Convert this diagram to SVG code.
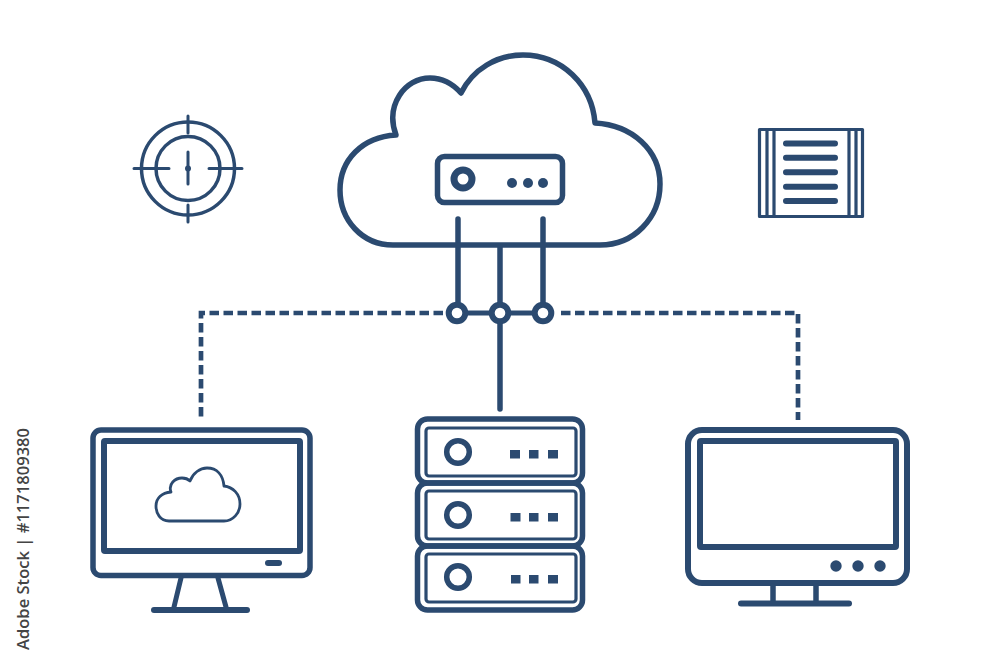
<svg xmlns="http://www.w3.org/2000/svg" width="1000" height="667" viewBox="0 0 1000 667">
<style>
.s{fill:none;stroke:#2b4a70;stroke-linecap:round;stroke-linejoin:round}
.w{fill:#fff;stroke:#2b4a70}
.f{fill:#2b4a70}
.d{fill:none;stroke:#2b4a70;stroke-width:4.700;stroke-dasharray:9.500 4.500}
.wm{font-family:"Open Sans","Liberation Sans",sans-serif;font-size:16.500px;font-weight:600;fill:#444}
</style>
<rect width="1000" height="667" fill="#fff"/>
<g id="connectors">
<path class="d" d="M443 313H201V420"/>
<path class="d" d="M561 313H798V420"/>
<path class="s" stroke-width="5.500" d="M458 219V306M500 247V306M543 219V306M500 322V409"/>
<path class="s" stroke-width="5" d="M464 313H492M508 313H534"/>
</g>
<g id="cloud">
<path class="s" stroke-width="5.500" d="M393 245C362 245 340 220 340 190C340 160 362 137 396 135C385 105 405 78 430 78C442 78 453 84 461 93C473 69 497 55 523 55C562 55 592 85 595 123C632 125 660 150 660 184C660 218 634 245 600 245Z"/>
<rect class="s" stroke-width="5.500" x="437.500" y="156.500" width="125" height="46" rx="7"/>
<circle class="s" stroke-width="7" cx="463" cy="179" r="9"/>
<circle class="f" cx="512" cy="183" r="5"/><circle class="f" cx="528" cy="183" r="5"/><circle class="f" cx="543" cy="183" r="5"/>
</g>
<g id="junctions">
<circle class="w" stroke-width="6" cx="457" cy="313" r="8.300"/>
<circle class="w" stroke-width="6" cx="500" cy="313" r="8.300"/>
<circle class="w" stroke-width="6" cx="543" cy="313" r="8.300"/>
</g>
<g id="target">
<circle class="s" stroke-width="3.500" cx="188" cy="168.500" r="46.500"/>
<circle class="s" stroke-width="3.500" cx="188" cy="168.500" r="32"/>
<path class="s" stroke-width="3" d="M188 116V133M188 205V222M134 168.500H169M209 168.500H242M188 152V184"/>
<circle class="f" cx="188" cy="168.500" r="3"/>
</g>
<g id="document">
<rect class="s" stroke-width="3.200" x="759.500" y="129.500" width="103" height="87"/>
<path class="s" stroke-width="3.200" d="M767 129.500V216.500M774 129.500V216.500M849 129.500V216.500M856 129.500V216.500"/>
<path class="s" stroke-width="6" d="M786 143.500H835M786 157.700H835M786 172.300H835M786 186.700H835M786 201H835"/>
</g>
<g id="monitor-left">
<rect class="s" stroke-width="5.500" x="93" y="430" width="217" height="145.500" rx="8"/>
<rect class="s" stroke-width="6" x="104" y="441" width="196" height="110" rx="1"/>
<path class="s" stroke-width="2.800" d="M169 521C160 521 156 513 156 506C156 498 162 493 171 492C168 484 175 478 182 478C185 478 188 479 190 481C193 473 200 468 207 468C217 468 223 475 224 486C233 487 240 494 240 504C240 513 233 521 224 521Z"/>
<rect class="f" x="265" y="560" width="17" height="6" rx="3"/>
<path class="s" stroke-width="5" d="M181 578L174 607M218 578L226 607"/>
<path class="s" stroke-width="6" d="M154 610H247"/>
</g>
<g id="server">
<rect class="s" stroke-width="5.500" x="417.500" y="419" width="165" height="64" rx="10"/>
<rect class="s" stroke-width="5.500" x="417.500" y="483" width="165" height="63" rx="10"/>
<rect class="s" stroke-width="5.500" x="417.500" y="546" width="165" height="64" rx="10"/>
<rect class="s" stroke-width="3.200" x="426" y="428" width="150" height="48" rx="3"/>
<rect class="s" stroke-width="3.200" x="426" y="491" width="150" height="48" rx="3"/>
<rect class="s" stroke-width="3.200" x="426" y="554" width="150" height="48" rx="3"/>
<circle class="s" stroke-width="5.500" cx="458" cy="452" r="11.300"/>
<circle class="s" stroke-width="5.500" cx="458" cy="515" r="11.300"/>
<circle class="s" stroke-width="5.500" cx="458" cy="577" r="11.300"/>
<g class="f">
<rect x="510" y="450" width="10" height="8.500"/><rect x="529" y="450" width="9.500" height="8.500"/><rect x="548" y="450" width="10" height="8.500"/>
<rect x="510.500" y="513" width="10" height="8.500"/><rect x="529" y="513" width="9.500" height="8.500"/><rect x="548" y="513" width="10" height="8.500"/>
<rect x="511" y="575" width="9.500" height="8.500"/><rect x="529" y="575" width="9.500" height="8.500"/><rect x="548" y="575" width="10" height="8.500"/>
</g>
</g>
<g id="monitor-right">
<rect class="s" stroke-width="6" x="688" y="430" width="219" height="153" rx="14"/>
<rect class="s" stroke-width="6" x="700" y="441" width="196" height="106" rx="1"/>
<circle class="f" cx="836" cy="566" r="5.700"/><circle class="f" cx="858" cy="566" r="5.700"/><circle class="f" cx="880" cy="566" r="5.700"/>
<path class="s" stroke-width="5.500" d="M773 586V603M816 586V603"/>
<path class="s" stroke-width="6" d="M741 603.500H849"/>
</g>
<text class="wm" transform="translate(29 650) rotate(-90)" textLength="222">Adobe Stock | #1171809380</text>
</svg>
